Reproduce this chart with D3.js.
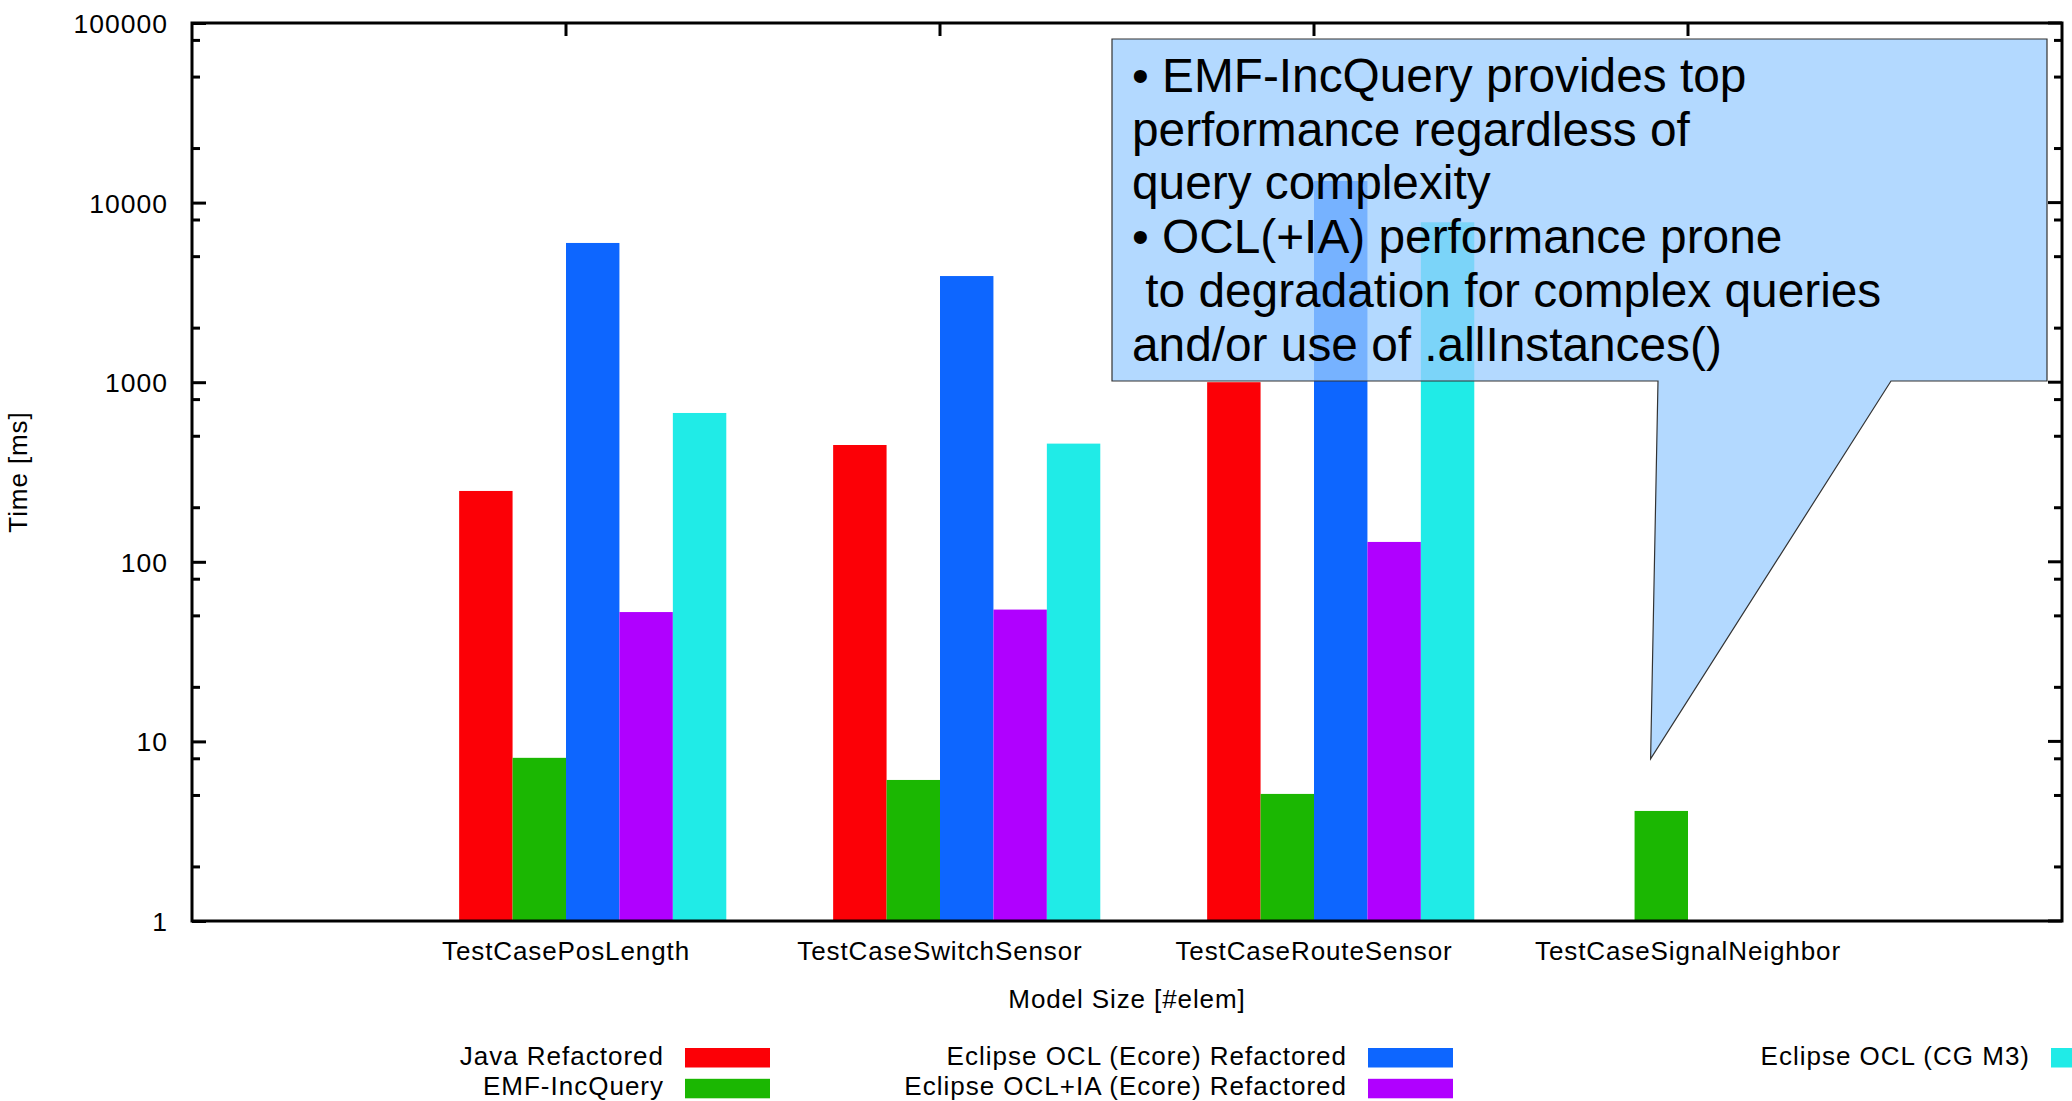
<!DOCTYPE html>
<html>
<head>
<meta charset="utf-8">
<script src="https://cdn.jsdelivr.net/npm/d3@7/dist/d3.min.js"></script>
<style>
  html, body { margin: 0; padding: 0; background: #ffffff; }
  svg { display: block; }
  text { font-family: "Liberation Sans", Arial, sans-serif; fill: #000; }
</style>
</head>
<body>
<svg id="chart_svg" width="2072" height="1101"></svg>
<script>
// data
var CATEGORIES = ["TestCasePosLength", "TestCaseSwitchSensor", "TestCaseRouteSensor", "TestCaseSignalNeighbor"];
var SERIES_NAMES = ["Java Refactored", "EMF-IncQuery", "Eclipse OCL (Ecore) Refactored",
                    "Eclipse OCL+IA (Ecore) Refactored", "Eclipse OCL (CG M3)"];
var SERIES_COLORS = ["#fc0006", "#1bb702", "#0d66ff", "#b000ff", "#20ebe7"];

var JAVA_REFACTORED = [248, 447, 1000, null];
var EMF_INCQUERY    = [8.1, 6.1, 5.1, 4.1];
var OCL_ECORE       = [5960, 3900, 13200, null];
var OCL_IA_ECORE    = [52.5, 54.2, 129, null];
var OCL_CG_M3       = [674, 455, 7770, null];
var SERIES = [JAVA_REFACTORED, EMF_INCQUERY, OCL_ECORE, OCL_IA_ECORE, OCL_CG_M3];

var Y_TICKS = [1, 10, 100, 1000, 10000, 100000];
var Y_MINOR = [2, 5, 8];

var NOTE_LINES = ["\u2022 EMF-IncQuery provides top",
                  "performance regardless of",
                  "query complexity",
                  "\u2022 OCL(+IA) performance prone",
                  " to degradation for complex queries",
                  "and/or use of .allInstances()"];

var svg = d3.select("#chart_svg");

var PLOT = {left: 192, right: 2062, top: 23, bottom: 921};

var x = d3.scaleLinear().domain([-1, 4]).range([PLOT.left, PLOT.right]);
var y = d3.scaleLog().domain([1, 100000]).range([PLOT.bottom, PLOT.top]);

// 6 slots per cluster (first one empty), box width 1/7
var BOX_W = 1 / 7;

function drawBars() {
    var bars = [];
    SERIES.forEach(function(s, j) {
        s.forEach(function(v, i) {
            if (v == null) return;
            bars.push({i: i, j: j, v: v});
        });
    });

    svg.append("g").selectAll("rect")
        .data(bars)
        .enter()
        .append("rect")
        .attr("x", function(d) { return x(d.i + (d.j - 2) * BOX_W); })
        .attr("width", function(d) { return x(BOX_W) - x(0); })
        .attr("y", function(d) { return y(d.v); })
        .attr("height", function(d) { return y(1) - y(d.v); })
        .attr("fill", function(d) { return SERIES_COLORS[d.j]; });
}

function drawAxes() {
    var g = svg.append("g");

    // minor y ticks
    var minors = [];
    Y_TICKS.slice(0, -1).forEach(function(t) {
        Y_MINOR.forEach(function(m) { minors.push(t * m); });
    });

    // left axis (d3 axis, ticks pointing inward)
    var left = g.append("g")
        .attr("transform", "translate(" + PLOT.left + ",0)")
        .call(d3.axisLeft(y).tickValues(Y_TICKS).tickFormat(d3.format("d"))
            .tickSizeInner(-14).tickSizeOuter(0).tickPadding(24));
    left.select(".domain").remove();
    left.selectAll(".tick line").attr("stroke", "#000").attr("stroke-width", 3);
    left.selectAll(".tick text")
        .style("font-size", "26.5px")
        .style("letter-spacing", "1px")
        .attr("dy", "0.36em");

    g.append("g").selectAll("line")
        .data(minors)
        .enter()
        .append("line")
        .attr("x1", PLOT.left).attr("x2", PLOT.left + 8)
        .attr("y1", function(d) { return y(d); })
        .attr("y2", function(d) { return y(d); })
        .attr("stroke", "#000").attr("stroke-width", 3);

    // right mirror ticks
    g.append("g").selectAll("line")
        .data(Y_TICKS.concat(minors))
        .enter()
        .append("line")
        .attr("x1", PLOT.right)
        .attr("x2", function(d) { return Y_TICKS.indexOf(d) >= 0 ? PLOT.right - 14 : PLOT.right - 8; })
        .attr("y1", function(d) { return y(d); })
        .attr("y2", function(d) { return y(d); })
        .attr("stroke", "#000").attr("stroke-width", 3);

    // top mirror ticks
    g.append("g").selectAll("line")
        .data(d3.range(CATEGORIES.length))
        .enter()
        .append("line")
        .attr("x1", function(d) { return x(d); })
        .attr("x2", function(d) { return x(d); })
        .attr("y1", PLOT.top).attr("y2", PLOT.top + 13)
        .attr("stroke", "#000").attr("stroke-width", 3);

    // category labels
    g.append("g").selectAll("text")
        .data(CATEGORIES)
        .enter()
        .append("text")
        .attr("x", function(d, i) { return x(i); })
        .attr("y", 960)
        .attr("text-anchor", "middle")
        .style("font-size", "26px")
        .style("letter-spacing", "0.9px")
        .text(function(d) { return d; });

    g.append("text")
        .attr("x", (PLOT.left + PLOT.right) / 2)
        .attr("y", 1008)
        .attr("text-anchor", "middle")
        .style("font-size", "26px")
        .style("letter-spacing", "0.9px")
        .text("Model Size [#elem]");

    g.append("text")
        .attr("transform", "translate(27," + ((PLOT.top + PLOT.bottom) / 2) + ") rotate(-90)")
        .attr("text-anchor", "middle")
        .style("font-size", "26px")
        .style("letter-spacing", "0.9px")
        .text("Time [ms]");
}

function drawFrame() {
    svg.append("rect")
        .attr("x", PLOT.left)
        .attr("y", PLOT.top)
        .attr("width", PLOT.right - PLOT.left)
        .attr("height", PLOT.bottom - PLOT.top)
        .attr("fill", "none")
        .attr("stroke", "#000")
        .attr("stroke-width", 3);
}

function drawNote() {
    // speech bubble, its tip points at the SignalNeighbor cluster
    var tipX = x(2.9), tipY = y(8);
    var box = {l: 1112, r: 2047, t: 39, b: 381};
    var path = "M" + box.l + "," + box.t +
               "H" + box.r + "V" + box.b +
               "H1891L" + tipX + "," + tipY +
               "L1658," + box.b +
               "H" + box.l + "Z";

    svg.append("path")
        .attr("d", path)
        .attr("fill", "#99ccff")
        .attr("fill-opacity", 0.75)
        .attr("stroke", "#333")
        .attr("stroke-width", 1.2);

    svg.append("g").selectAll("text")
        .data(NOTE_LINES)
        .enter()
        .append("text")
        .attr("x", 1132)
        .attr("y", function(d, i) { return 92 + i * 53.7; })
        .attr("xml:space", "preserve")
        .style("white-space", "pre")
        .style("font-size", "47.8px")
        .text(function(d) { return d; });
}

function drawLegend() {
    var items = SERIES_NAMES.map(function(n, k) {
        return {name: n, color: SERIES_COLORS[k], col: Math.floor(k / 2), row: k % 2};
    });

    var g = svg.append("g").selectAll("g")
        .data(items)
        .enter()
        .append("g")
        .attr("transform", function(d) {
            return "translate(" + (685 + d.col * 683) + "," + (1048 + d.row * 30.8) + ")";
        });

    g.append("rect")
        .attr("width", 85)
        .attr("height", 19.5)
        .attr("fill", function(d) { return d.color; });

    g.append("text")
        .attr("x", -21)
        .attr("y", 16.5)
        .attr("text-anchor", "end")
        .style("font-size", "26px")
        .style("letter-spacing", "1px")
        .text(function(d) { return d.name; });
}

drawAxes();
drawBars();
drawFrame();
drawNote();
drawLegend();
</script>
</body>
</html>
